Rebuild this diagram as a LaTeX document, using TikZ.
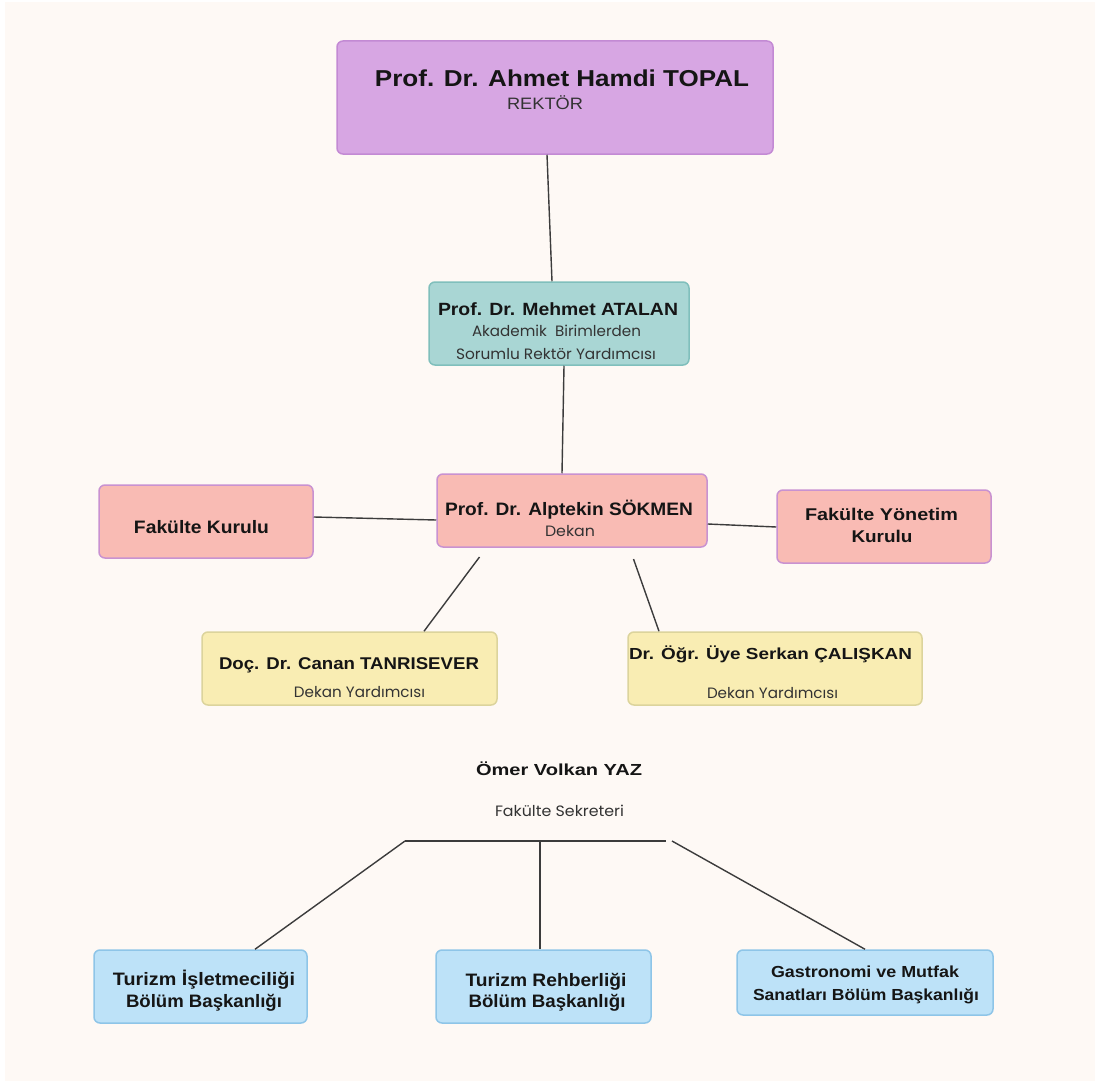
\documentclass[tikz,border=0pt]{standalone}
\usepackage{fontspec}
\usepackage{graphicx}
\setmainfont{Liberation Sans}
\newfontfamily\pop{Poppins}
\usetikzlibrary{calc}
\definecolor{bgc}{HTML}{FEF9F5}
\definecolor{purf}{HTML}{D7A6E3}
\definecolor{purd}{HTML}{C38AD4}
\definecolor{tealf}{HTML}{A9D6D4}
\definecolor{teald}{HTML}{80BFBC}
\definecolor{pinkf}{HTML}{F9BBB4}
\definecolor{pinkd}{HTML}{C992D1}
\definecolor{yelf}{HTML}{F9EDB3}
\definecolor{yeld}{HTML}{DCD49C}
\definecolor{bluf}{HTML}{BDE2F8}
\definecolor{blud}{HTML}{8EC5E8}
\definecolor{ink}{HTML}{151515}
\definecolor{sub}{HTML}{333333}
\definecolor{lnc}{HTML}{3C3C3C}
\newcommand\fitw[2]{\resizebox{#1}{\height}{#2}}
\newcommand\fs[1]{\fontsize{#1}{#1}\selectfont}
\begin{document}
\begin{tikzpicture}[x=1pt,y=-1pt,
  box/.style={draw, rounded corners=6pt, line width=1.5pt, inner sep=0pt},
  txt/.style={anchor=base, inner sep=0pt, text=ink, font=\bfseries},
  stxt/.style={anchor=base, inner sep=0pt, text=sub, font=\pop},
  conn/.style={draw=lnc, line width=1.4pt}]
\useasboundingbox (0,0) rectangle (1095,1081);
\fill[white] (0,0) rectangle (1095,1081);
\fill[bgc] (5,2) rectangle (1095,1081);

% boxes
\node[box, fill=purf, draw=purd, minimum width=436pt, minimum height=113pt] (rektor) at (555,97.5) {};
\node[box, fill=tealf, draw=teald, minimum width=260pt, minimum height=83pt] (atalan) at (559,323.5) {};
\node[box, fill=pinkf, draw=pinkd, minimum width=270pt, minimum height=73pt] (sokmen) at (572,510.5) {};
\node[box, fill=pinkf, draw=pinkd, minimum width=214pt, minimum height=73pt] (fk) at (206,521.5) {};
\node[box, fill=pinkf, draw=pinkd, minimum width=214pt, minimum height=73pt] (fyk) at (884,526.5) {};
\node[box, fill=yelf, draw=yeld, minimum width=295pt, minimum height=73pt] (canan) at (349.5,668.5) {};
\node[box, fill=yelf, draw=yeld, minimum width=294pt, minimum height=73pt] (serkan) at (775,668.5) {};
\node[box, fill=bluf, draw=blud, minimum width=213pt, minimum height=73pt] (b1) at (200.5,986.5) {};
\node[box, fill=bluf, draw=blud, minimum width=215pt, minimum height=73pt] (b2) at (543.5,986.5) {};
\node[box, fill=bluf, draw=blud, minimum width=256pt, minimum height=65pt] (b3) at (865,982.5) {};

% texts
\node[txt] (t1) at (562,86) {\fitw{374pt}{\fs{23}Prof. Dr. Ahmet Hamdi TOPAL}};
\node[txt, font=\mdseries, text=sub] (t1s) at (545,110) {\fitw{76pt}{\fs{16.5}REKTÖR}};
\node[txt] (t2) at (558,315) {\fitw{240pt}{\fs{17.7}Prof. Dr. Mehmet ATALAN}};
\node[stxt] (t2a) at (556.5,336) {\fitw{169pt}{\fs{15}Akademik\ \ Birimlerden}};
\node[stxt] (t2b) at (556,359) {\fitw{200pt}{\fs{15}Sorumlu Rektör Yardımcısı}};
\node[txt] (t3) at (569,515) {\fitw{248pt}{\fs{18}Prof. Dr. Alptekin SÖKMEN}};
\node[stxt] (t3s) at (570,536) {\fitw{50pt}{\fs{15}Dekan}};
\node[txt] (t4) at (201.5,533) {\fitw{135pt}{\fs{18}Fakülte Kurulu}};
\node[txt] (t5a) at (881.5,520) {\fitw{153pt}{\fs{17}Fakülte Yönetim}};
\node[txt] (t5b) at (882,542) {\fitw{61pt}{\fs{17}Kurulu}};
\node[txt] (t6) at (349,669) {\fitw{260pt}{\fs{17}Doç. Dr. Canan TANRISEVER}};
\node[stxt] (t6s) at (359.5,697) {\fitw{131pt}{\fs{15}Dekan Yardımcısı}};
\node[txt] (t7) at (770.5,659) {\fitw{283pt}{\fs{16}Dr. Öğr. Üye Serkan ÇALIŞKAN}};
\node[stxt] (t7s) at (772.5,698) {\fitw{131pt}{\fs{15}Dekan Yardımcısı}};
\node[txt] (t8) at (559,775) {\fitw{166pt}{\fs{16}Ömer Volkan YAZ}};
\node[stxt] (t8s) at (559.5,816) {\fitw{129pt}{\fs{15}Fakülte Sekreteri}};
\node[txt] (t9a) at (204,985) {\fitw{182pt}{\fs{18}Turizm İşletmeciliği}};
\node[txt] (t9b) at (204,1007) {\fitw{156pt}{\fs{18}Bölüm Başkanlığı}};
\node[txt] (t10a) at (546,986) {\fitw{161pt}{\fs{18}Turizm Rehberliği}};
\node[txt] (t10b) at (547,1007) {\fitw{157pt}{\fs{18}Bölüm Başkanlığı}};
\node[txt] (t11a) at (865,977) {\fitw{188pt}{\fs{16}Gastronomi ve Mutfak}};
\node[txt] (t11b) at (866,1000) {\fitw{226pt}{\fs{16}Sanatları Bölüm Başkanlığı}};

% connectors
\draw[conn] ([xshift=-8pt]rektor.south) -- ([xshift=-7pt]atalan.north);
\draw[conn] ([xshift=5pt]atalan.south) -- ([xshift=-10pt]sokmen.north);
\draw[conn] ([yshift=4.5pt]fk.east) -- ([yshift=-9.5pt]sokmen.west);
\draw[conn] ([yshift=-13.5pt]sokmen.east) -- ([yshift=-0.5pt]fyk.west);
\coordinate (d1) at (479.5,557);
\coordinate (d2) at (633.5,559);
\draw[conn] (d1) -- ([xshift=74.5pt]canan.north);
\draw[conn] (d2) -- ([xshift=-116pt]serkan.north);
\coordinate (hL) at (405,841);
\coordinate (hM) at (540,841);
\coordinate (hR) at (666,841);
\coordinate (hR2) at (672,841);
\draw[conn] (hL) -- (hR);
\draw[conn] (hL) -- ([xshift=54.5pt]b1.north);
\draw[conn] (hM) -- ([xshift=-3.5pt]b2.north);
\draw[conn] (hR2) -- (b3.north);
\end{tikzpicture}
\end{document}
